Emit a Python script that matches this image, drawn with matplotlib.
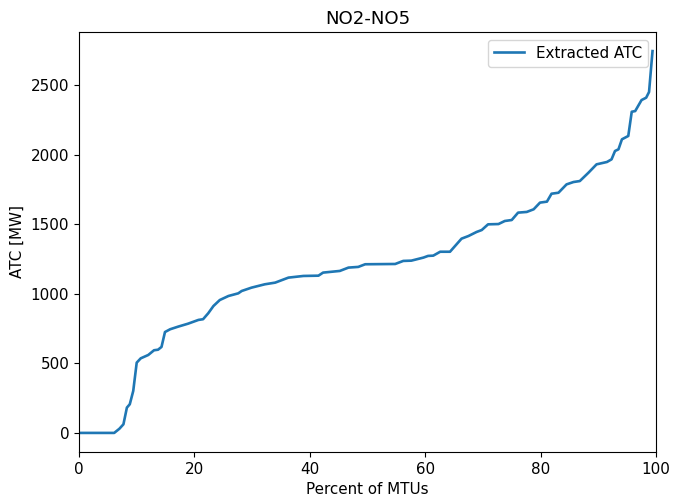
import numpy as np
import matplotlib
matplotlib.use('Agg')
from matplotlib import pyplot as plt

plt.rcParams['font.size'] = 10.9

# duration curve
pct = [0.0, 6.1, 7.0, 7.7, 8.3, 8.8, 9.4, 10.0, 10.7, 12.0, 13.0, 13.7, 14.3, 14.9,
       15.8, 17.2, 18.9, 20.7, 21.5, 22.4, 23.3, 24.4, 25.9, 27.6, 28.2, 29.9,
       32.2, 34.0, 36.3, 38.9, 41.5, 42.3, 45.2, 46.7, 48.4, 49.6, 54.8, 56.2,
       57.6, 59.7, 60.5, 61.4, 62.6, 64.3, 66.3, 67.5, 68.9, 69.8, 70.9, 72.7,
       73.8, 75.0, 76.1, 77.6, 78.8, 79.9, 81.1, 81.9, 83.1, 84.5, 85.7, 86.8,
       88.3, 89.7, 91.5, 92.3, 92.9, 93.5, 94.1, 95.2, 95.8, 96.4, 97.5, 98.3,
       98.8, 99.4]
atc = [0, 0, 30, 62, 182, 206, 302, 505, 536, 560, 594, 598, 618, 725,
       745, 764, 785, 812, 817, 860, 912, 955, 984, 1003, 1020, 1044,
       1068, 1080, 1116, 1128, 1130, 1152, 1164, 1188, 1193, 1212, 1214, 1236,
       1238, 1260, 1272, 1274, 1302, 1302, 1396, 1415, 1444, 1458, 1499, 1501,
       1523, 1530, 1583, 1588, 1607, 1655, 1662, 1719, 1726, 1786, 1803, 1810,
       1870, 1930, 1947, 1966, 2026, 2038, 2110, 2134, 2308, 2313, 2392, 2409,
       2450, 2744]

fig = plt.figure(figsize=(6.73, 4.96), dpi=100)
plt.subplots_adjust(left=0.1174, right=0.9747, top=0.9355, bottom=0.0887)
plt.plot(pct, atc, label="Extracted ATC", linewidth=1.9)
plt.legend(loc='upper right')
plt.title("NO2-NO5")
plt.xlabel("Percent of MTUs")
plt.ylabel("ATC [MW]")
plt.xlim(0, 100)
plt.savefig("out.png")
